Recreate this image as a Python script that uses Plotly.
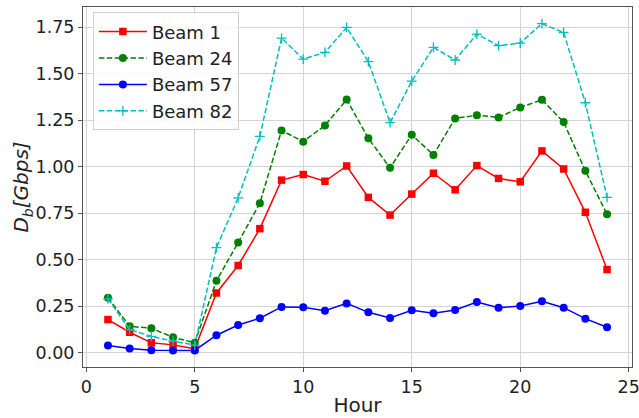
import plotly.graph_objects as go

hours = list(range(1, 25))
beam1 = [0.177, 0.109, 0.052, 0.041, 0.020, 0.320, 0.468, 0.666, 0.927, 0.957, 0.921, 1.003,
         0.834, 0.739, 0.852, 0.964, 0.875, 1.005, 0.936, 0.918, 1.084, 0.987, 0.754, 0.446]
beam24 = [0.295, 0.141, 0.130, 0.082, 0.052, 0.386, 0.591, 0.803, 1.194, 1.134, 1.221, 1.360,
          1.152, 0.993, 1.171, 1.062, 1.259, 1.276, 1.264, 1.318, 1.359, 1.239, 0.977, 0.743]
beam57 = [0.038, 0.021, 0.012, 0.011, 0.011, 0.093, 0.148, 0.184, 0.245, 0.243, 0.225, 0.264,
          0.216, 0.186, 0.227, 0.211, 0.229, 0.271, 0.241, 0.250, 0.275, 0.241, 0.182, 0.136]
beam82 = [0.288, 0.123, 0.087, 0.061, 0.040, 0.564, 0.832, 1.162, 1.691, 1.578, 1.614, 1.748,
          1.564, 1.236, 1.459, 1.641, 1.573, 1.712, 1.650, 1.664, 1.769, 1.721, 1.343, 0.834]

x_ticks = [0, 5, 10, 15, 20, 25]
y_ticks = [0.0, 0.25, 0.5, 0.75, 1.0, 1.25, 1.5, 1.75]

dash = "5.5px,2.4px"
fig = go.Figure()
fig.add_trace(go.Scatter(x=hours, y=beam1, name="Beam 1", mode="lines+markers", legendgroup="g1",
                         line=dict(color="#ff0000", width=1.5),
                         marker=dict(symbol="square", size=7.5, color="#ff0000")))
fig.add_trace(go.Scatter(x=hours, y=beam24, name="Beam 24", mode="lines+markers", legendgroup="g2",
                         line=dict(color="#008000", width=1.5, dash=dash),
                         marker=dict(symbol="circle", size=8, color="#008000")))
fig.add_trace(go.Scatter(x=hours, y=beam57, name="Beam 57", mode="lines+markers", legendgroup="g3",
                         line=dict(color="#0000ff", width=1.5),
                         marker=dict(symbol="circle", size=8, color="#0000ff")))
fig.add_trace(go.Scatter(x=hours, y=beam82, name="Beam 82", mode="lines+markers", legendgroup="g4",
                         line=dict(color="#00bfbf", width=1.5, dash=dash),
                         marker=dict(symbol="cross-thin", size=7,
                                     line=dict(color="#00bfbf", width=1.3))))

axis_common = dict(showgrid=True, gridcolor="#d4d4d4", gridwidth=1,
                   showline=True, linecolor="#555555", linewidth=1, mirror=True,
                   ticks="outside", ticklen=4, tickcolor="#555555",
                   tickfont=dict(family="DejaVu Sans", size=17.5, color="#222222"),
                   zeroline=False, automargin=False, ticklabeloverflow="allow")

fig.update_xaxes(range=[-0.15, 25.15], tickvals=x_ticks,
                 title=dict(text="Hour", font=dict(family="DejaVu Sans", size=20, color="#222222"),
                            standoff=1),
                 **axis_common)
fig.update_yaxes(range=[-0.078, 1.858], tickvals=y_ticks, tickformat=".2f",
                 title=dict(text="<i>D</i><sub><i>b</i></sub><i>[Gbps]</i>",
                            font=dict(family="DejaVu Sans", size=20, color="#222222"),
                            standoff=0),
                 **axis_common)

fig.update_layout(
    width=639, height=418,
    margin=dict(l=83, r=7, t=7, b=51),
    paper_bgcolor="white", plot_bgcolor="white",
    showlegend=True,
    legend=dict(x=0.018, y=0.985, xanchor="left", yanchor="top",
                bgcolor="rgba(255,255,255,0.85)", bordercolor="#d0d0d0", borderwidth=1,
                font=dict(family="DejaVu Sans", size=18, color="#222222"),
                itemwidth=48, tracegroupgap=0),
)

fig.write_html("out.html", config={"displayModeBar": False},
               post_script="document.body.style.margin='0';document.body.style.overflow='hidden';")
